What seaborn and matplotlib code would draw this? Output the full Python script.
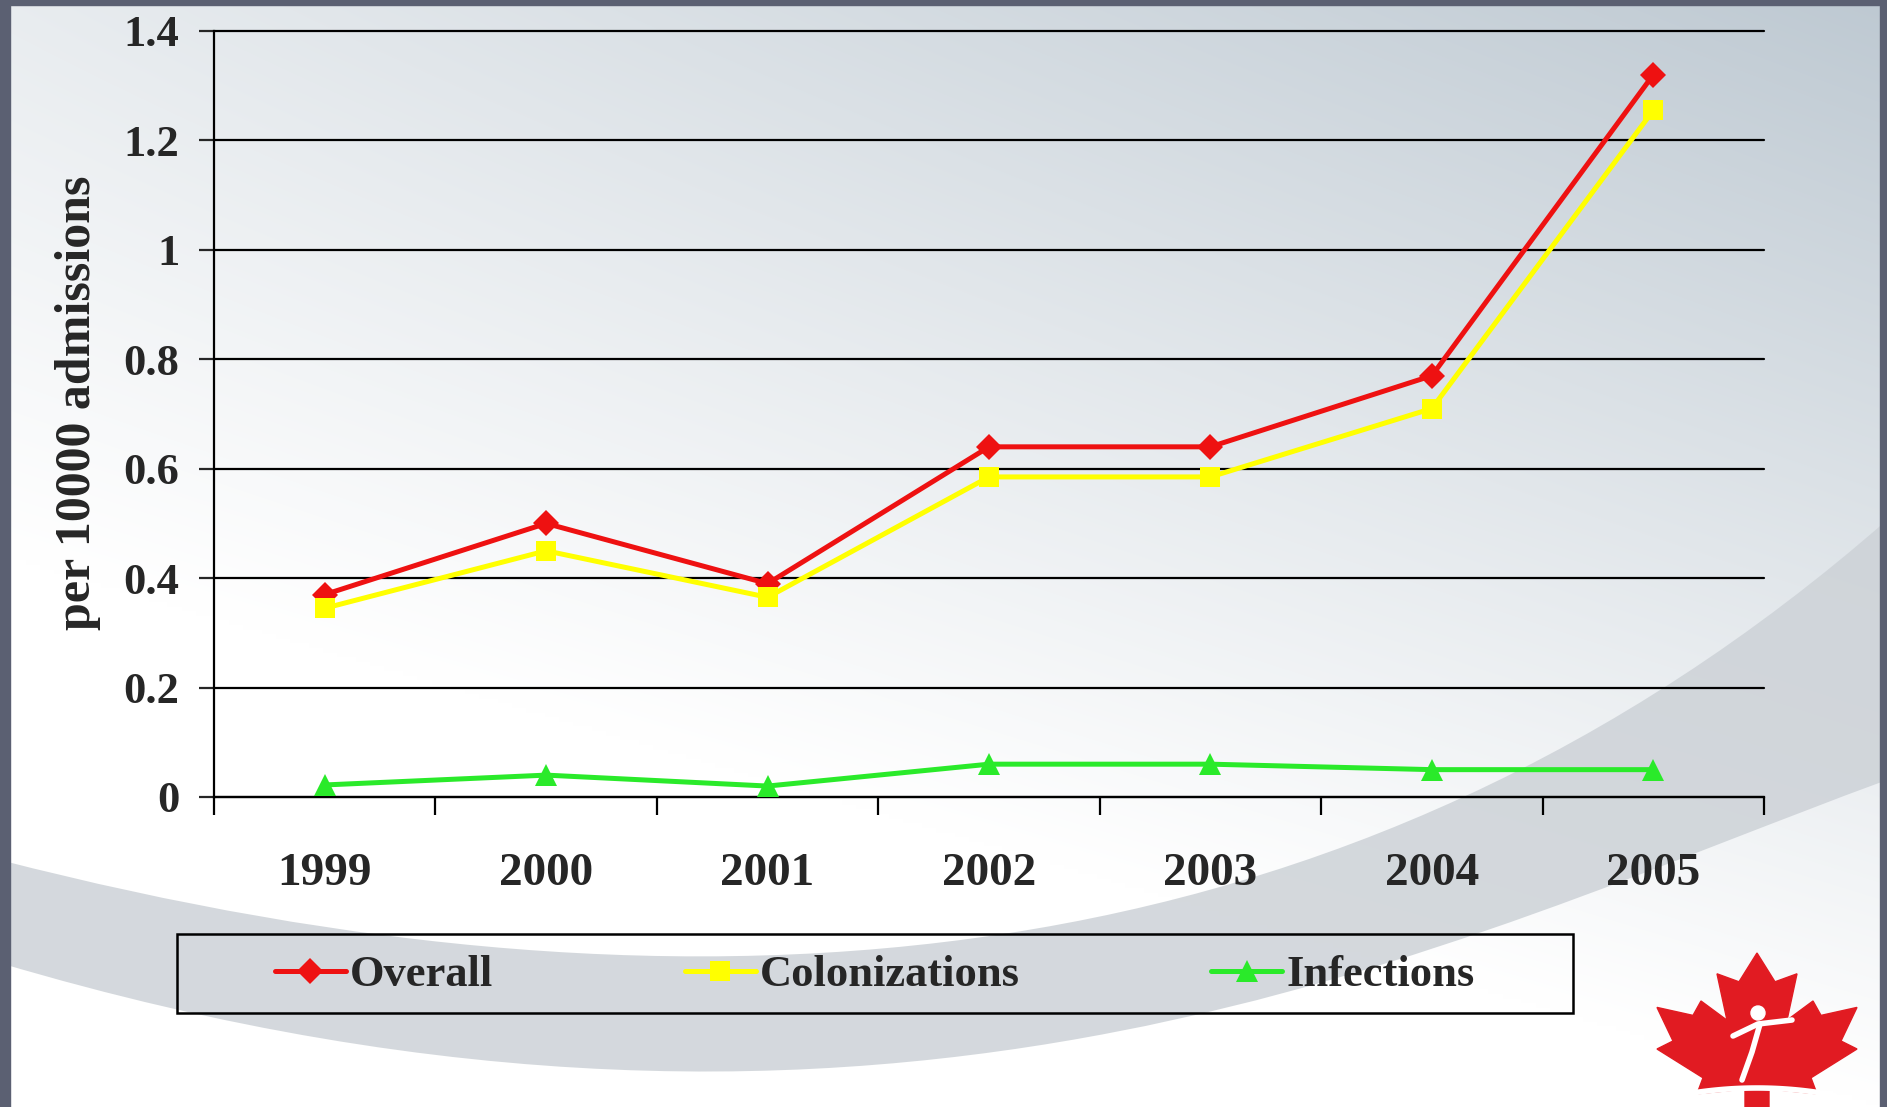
import matplotlib.pyplot as plt
import matplotlib.patches as mpatches
import matplotlib.ticker as mticker
from matplotlib.path import Path
import numpy as np
import seaborn as sns

# values (per 10000 admissions)
years = ["1999", "2000", "2001", "2002", "2003", "2004", "2005"]
overall = [0.37, 0.50, 0.39, 0.64, 0.64, 0.77, 1.32]
colonizations = [0.345, 0.45, 0.365, 0.585, 0.585, 0.71, 1.255]
infections = [0.022, 0.04, 0.02, 0.06, 0.06, 0.05, 0.05]
y_ticks = [0, 0.2, 0.4, 0.6, 0.8, 1.0, 1.2, 1.4]

SERIES = [
    ("Overall", overall, "#ee1111", "D", 13),
    ("Colonizations", colonizations, "#ffff00", "s", 15),
    ("Infections", infections, "#2aea2a", "^", 16),
]

W, H = 1887, 1107
sns.set_style("white")
plt.rcParams["font.family"] = ["Liberation Serif", "DejaVu Serif"]
plt.rcParams["font.weight"] = "bold"

fig = plt.figure(figsize=(W / 100, H / 100), dpi=100)


def px(x, y):
    # slide pixel -> figure fraction
    return x / W, 1 - y / H


# ---- slide background ----
bg = fig.add_axes([0, 0, 1, 1], zorder=-10)
bg.set_axis_off()
bg.set_xlim(0, W)
bg.set_ylim(H, 0)
u, v = np.meshgrid(np.linspace(0, 1, 400), np.linspace(0, 1, 240))
w = (0.35 + 0.65 * u) * np.clip(1 - v / (0.5 + 0.5 * u), 0, 1)
base = np.array([190, 201, 210]) / 255
img = 1 - w[..., None] * (1 - base)
bg.imshow(img, extent=(0, W, H, 0), aspect="auto", interpolation="bilinear")

# grey swoosh across the bottom
verts = [(0, 860),
         (700, 1040), (1350, 990), (1887, 520),
         (1887, 780),
         (1450, 940), (900, 1230), (0, 963),
         (0, 860)]
codes = ([Path.MOVETO] + [Path.CURVE4] * 3 + [Path.LINETO]
         + [Path.CURVE4] * 3 + [Path.CLOSEPOLY])
bg.add_patch(mpatches.PathPatch(Path(verts, codes), facecolor="#cdd2d7",
                                edgecolor="none", alpha=0.85))

# dark slide frame
frame = "#5b6072"
bg.add_patch(mpatches.Rectangle((0, 0), 10, H, color=frame))
bg.add_patch(mpatches.Rectangle((0, 0), W, 5, color=frame))
bg.add_patch(mpatches.Rectangle((W - 7, 0), 7, H, color=frame))

# maple leaf logo
leaf_local = [
    (0.00, 1.00), (0.09, 0.82), (0.20, 0.87), (0.15, 0.58), (0.28, 0.70),
    (0.32, 0.61), (0.50, 0.66), (0.42, 0.45), (0.50, 0.40), (0.27, 0.22),
    (0.30, 0.12), (0.06, 0.15), (0.06, -0.05),
]
leaf_local = leaf_local + [(-x, y) for x, y in reversed(leaf_local)]
leaf = [(1757 + x * 200, 953 + (1 - y) * 160) for x, y in leaf_local]
bg.add_patch(mpatches.Polygon(leaf, closed=True, color="#e11b22"))
bg.add_patch(mpatches.Circle((1758, 1013), 7, color="white"))
bg.plot([1733, 1758, 1792], [1036, 1024, 1020], color="white", lw=4, solid_capstyle="round")
bg.plot([1760, 1752, 1742], [1024, 1052, 1080], color="white", lw=4, solid_capstyle="round")
arc_x = np.linspace(1680, 1835, 40)
bg.plot(arc_x, 1088 + 0.0012 * (arc_x - 1757) ** 2, color="white", lw=4)

# ---- chart ----
ax = fig.add_axes([214 / W, 1 - 797 / H, 1550 / W, 766 / H])
ax.set_facecolor("none")
xpos = list(range(len(years)))

for name, vals, color, marker, ms in SERIES:
    sns.lineplot(x=xpos, y=vals, ax=ax, color=color, marker=marker,
                 markersize=ms, markeredgewidth=0, linewidth=3.6,
                 label=name, zorder=3)
if ax.get_legend() is not None:
    ax.get_legend().remove()

ax.set_xlim(-0.5, len(years) - 0.5)
ax.set_ylim(0, 1.4)
ax.set_yticks(y_ticks)
ax.yaxis.set_major_formatter(mticker.FuncFormatter(lambda val, _: f"{val:g}"))
ax.yaxis.grid(True, color="black", linewidth=1.6)
for gl in ax.get_ygridlines():
    gl.set_clip_on(False)
ax.set_axisbelow(True)

ax.set_xticks(np.arange(-0.5, len(years), 1))
ax.set_xticklabels([])
ax.set_xticks(xpos, minor=True)
ax.set_xticklabels(years, minor=True)
ax.tick_params(axis="x", which="major", direction="out", length=13, width=1.6,
               color="black", bottom=True)
ax.tick_params(axis="x", which="minor", length=0, pad=40, labelsize=34)
ax.tick_params(axis="y", direction="out", length=11, width=1.6, pad=14,
               labelsize=32, left=True)

for side in ["top", "right"]:
    ax.spines[side].set_visible(False)
for side in ["left", "bottom"]:
    ax.spines[side].set_color("black")
    ax.spines[side].set_linewidth(1.6)
ax.set_xlabel("")
ax.set_ylabel("")

fx, fy = px(78, 630)
fig.text(fx, fy, "per 10000 admissions", rotation=90, ha="center", va="bottom",
         fontsize=36, fontweight="bold")

# legend: box drawn separately, entries centred inside
x0, y0 = px(177, 1013)
x1, y1 = px(1573, 934)
fig.patches.append(mpatches.Rectangle((x0, y0), x1 - x0, y1 - y0, transform=fig.transFigure,
                                      fill=False, edgecolor="black", linewidth=1.8))
handles, labels = ax.get_legend_handles_labels()
lx, ly = px(875, 975)
fig.legend(handles, labels, loc="center", bbox_to_anchor=(lx, ly), ncol=3,
           frameon=False, handlelength=1.6, handletextpad=0.1,
           columnspacing=4.3, prop={"weight": "bold", "size": 32})

fig.savefig("out.png", dpi=100)
